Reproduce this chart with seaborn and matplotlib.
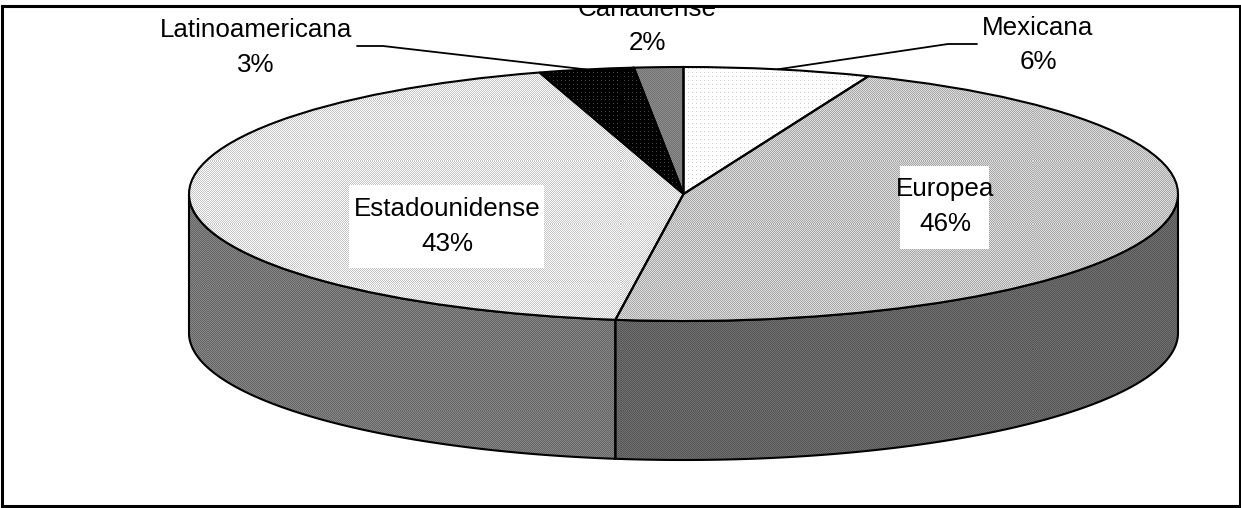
# coding: utf-8
"""Pastel 3D de procedencia por origen, con tramas de puntos."""

import matplotlib
matplotlib.use("Agg")
import matplotlib.pyplot as plt
import numpy as np
import seaborn as sns
from matplotlib.patches import Polygon, Rectangle

CATEGORIES = ["Mexicana", "Europea", "Estadounidense", "Latinoamericana", "Canadiense"]
VALUES = [6.1, 46.1, 43.1, 3.1, 1.6]

WIDTH, HEIGHT = 1241, 508
CX, CY = 683.5, 194.0
RX, RY = 494.5, 127.0
DEPTH = 139.0 / RY

# (punto, fondo, periodo) de cada trama
TOP_TEXTURES = [
    (0.80, 1.00, 4),
    (0.66, 0.86, 2),
    (0.76, 1.00, 2),
    (0.28, 0.00, 4),
    (0.46, 0.54, 2),
]
SIDE_TEXTURES = {"Europea": (0.34, 0.43, 2), "Estadounidense": (0.40, 0.52, 2)}

LABEL_POS = {
    "Mexicana": (1038, 45),
    "Europea": (945, 206.5),
    "Estadounidense": (447, 226.5),
    "Latinoamericana": (256, 47.5),
    "Canadiense": (647, 26),
}
LABEL_BOXES = {"Europea": (900, 166, 989, 249), "Estadounidense": (349, 185, 544, 268)}
LEADER_ELBOWS = {
    "Mexicana": [(977, 44), (948, 44)],
    "Latinoamericana": [(357, 46), (383, 46)],
}


def px(x, y):
    """Pixeles de la imagen a unidades del pastel."""
    return (x - CX) / RX, (CY - y) / RY


def texture(dot, base, period):
    yy, xx = np.mgrid[0:HEIGHT, 0:WIDTH]
    if period == 2:
        mask = (xx + yy) % 2 == 0
    else:
        mask = (xx % 4 == 0) & (yy % 4 == 0)
    return np.where(mask, dot, base)


def rim(start, end):
    theta = np.radians(np.linspace(start, end, 120))
    return np.column_stack([np.sin(theta), np.cos(theta)])


sns.set_theme(style="white", font="Liberation Sans")
plt.rcParams["font.family"] = ["Liberation Sans", "DejaVu Sans"]

fig = plt.figure(figsize=(WIDTH / 100, HEIGHT / 100), dpi=100)
ax = fig.add_axes([1.5 / WIDTH, 2.5 / HEIGHT, (WIDTH - 3) / WIDTH, (HEIGHT - 8) / HEIGHT])

left, top = px(1.5, 5.5)
right, bottom = px(WIDTH - 1.5, HEIGHT - 2.5)
limits = (left, right, bottom, top)

wedges, _ = ax.pie(
    VALUES,
    startangle=90,
    counterclock=False,
    colors=["none"] * len(VALUES),
    wedgeprops={"edgecolor": "black", "linewidth": 1.5, "zorder": 4},
)

edges = np.concatenate([[0], np.cumsum(VALUES)]) * 3.6
for wedge, tex in zip(wedges, TOP_TEXTURES):
    image = ax.imshow(texture(*tex), cmap="gray", vmin=0, vmax=1, extent=limits,
                      aspect="auto", interpolation="nearest", zorder=3)
    image.set_clip_path(wedge)

# pared del cilindro, solo la mitad delantera
split = edges[2]
for name, start, end in [("Europea", 90, split), ("Estadounidense", split, 270)]:
    upper = rim(start, end)
    lower = upper[::-1] - [0, DEPTH]
    wall = Polygon(np.vstack([upper, lower]), closed=True, facecolor="none",
                   edgecolor="black", linewidth=1.5, zorder=2)
    ax.add_patch(wall)
    image = ax.imshow(texture(*SIDE_TEXTURES[name]), cmap="gray", vmin=0, vmax=1,
                      extent=limits, aspect="auto", interpolation="nearest", zorder=1)
    image.set_clip_path(wall)

# cajas blancas de las etiquetas internas
for name, (x0, y0, x1, y1) in LABEL_BOXES.items():
    (ax0, ay0), (ax1, ay1) = px(x0, y0), px(x1, y1)
    ax.add_patch(Rectangle((ax0, ay1), ax1 - ax0, ay0 - ay1, facecolor="white",
                           edgecolor="none", zorder=5))

# lineas guia hasta la mitad de cada porcion
for name, elbow in LEADER_ELBOWS.items():
    i = CATEGORIES.index(name)
    mid = np.radians((edges[i] + edges[i + 1]) / 2)
    points = [px(*p) for p in elbow] + [(np.sin(mid), np.cos(mid))]
    ax.plot(*zip(*points), color="black", linewidth=1.3, zorder=6)

# Canadiense queda cortada por el marco, igual que en el original
for name, value in zip(CATEGORIES, VALUES):
    x, y = px(*LABEL_POS[name])
    ax.text(x, y, f"{name}\n{value:.0f}%", ha="center", va="center", fontsize=18.7,
            linespacing=1.53, color="black", clip_on=True, zorder=7)

ax.set_aspect("auto")
ax.set_xlim(left, right)
ax.set_ylim(bottom, top)
ax.set_xticks([])
ax.set_yticks([])
ax.set_frame_on(True)
for spine in ax.spines.values():
    spine.set_visible(True)
    spine.set_color("black")
    spine.set_linewidth(2.2)
    spine.set_zorder(10)

fig.savefig("out.png", dpi=100, facecolor="white")
